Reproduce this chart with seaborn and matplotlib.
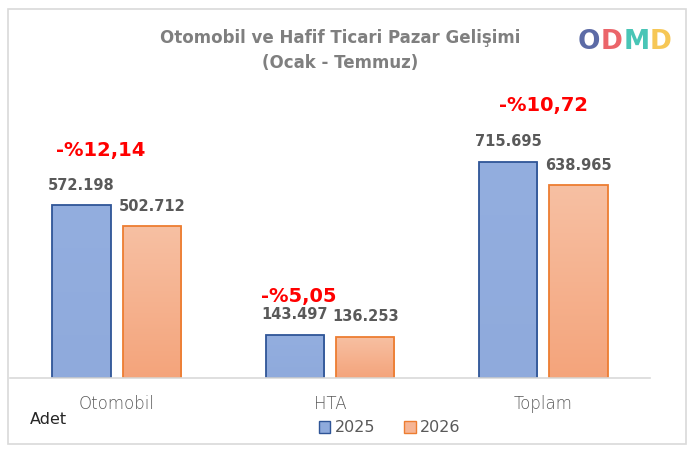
import numpy as np
import pandas as pd
import matplotlib
matplotlib.use("Agg")
import matplotlib.pyplot as plt
import seaborn as sns
from matplotlib.patches import FancyBboxPatch, Patch
from matplotlib.colors import LinearSegmentedColormap

categories = ["Otomobil", "HTA", "Toplam"]
years = ["2025", "2026"]
values_2025 = [572198, 143497, 715695]
values_2026 = [502712, 136253, 638965]
pct_labels = ["-%12,14", "-%5,05", "-%10,72"]

df = pd.DataFrame({
    "Kategori": categories * 2,
    "Yil": [years[0]] * 3 + [years[1]] * 3,
    "Adet": values_2025 + values_2026,
})

sns.set_theme(style="white")
plt.rcParams["font.family"] = ["DejaVu Sans"]

W, H = 694, 449
fig = plt.figure(figsize=(W / 100, H / 100), dpi=100)
ax = fig.add_axes([10 / W, 1 - 378 / H, 640 / W, (378 - 90) / H])

blue_face = "#8eaadc"
blue_edge = "#2f5597"
orange_face = "#f6b595"
orange_edge = "#ed7d31"

sns.barplot(data=df, x="Kategori", y="Adet", hue="Yil", order=categories,
            hue_order=years, palette=[blue_face, orange_face],
            width=0.66, gap=0.17, ax=ax, legend=False, saturation=1)

grads = {
    0: LinearSegmentedColormap.from_list("b", ["#8faadc", "#93aedf"]),
    1: LinearSegmentedColormap.from_list("o", ["#f4a47b", "#f7c0a3"]),
}
for i, container in enumerate(ax.containers):
    edge = blue_edge if i == 0 else orange_edge
    for bar in container:
        x0, y0 = bar.get_x(), bar.get_y()
        w, h = bar.get_width(), bar.get_height()
        grad = np.linspace(0, 1, 256).reshape(-1, 1)
        im = ax.imshow(grad, extent=[x0, x0 + w, y0, y0 + h], origin="lower",
                       aspect="auto", cmap=grads[i], zorder=bar.get_zorder() + 0.1)
        im.set_clip_path(bar)
        bar.set_edgecolor(edge)
        bar.set_linewidth(1.3)
        bar.set_zorder(bar.get_zorder() + 0.2)
        bar.set_facecolor("none")
ax.set_xlim(-0.5, 2.5)
ax.set_ylim(0, 954000)
ax.set_aspect("auto")

def fmt(v):
    return f"{int(round(v)):,}".replace(",", ".")

for i, container in enumerate(ax.containers):
    ax.bar_label(container, labels=[fmt(v) for v in container.datavalues],
                 padding=9, fontsize=10.5, fontweight="bold", color="#595959")

pct_pos = [(-0.075, 755000), (-0.146, 271000), (0.0, 901000)]
for i, (lab, (px, py)) in enumerate(zip(pct_labels, pct_pos)):
    ax.text(i + px, py, lab, ha="center", va="center", fontsize=14,
            fontweight="bold", color="#ff0000")

for s in ["top", "right", "left"]:
    ax.spines[s].set_visible(False)
ax.spines["bottom"].set_color("#d9d9d9")
ax.spines["bottom"].set_linewidth(1.2)
ax.set_yticks([])
ax.set_xlabel("")
ax.set_ylabel("")
ax.tick_params(axis="x", length=0, pad=12, labelsize=12, labelcolor="#595959")
for t in ax.get_xticklabels():
    t.set_fontweight("light")

fig.text(340 / W, 1 - 38 / H, "Otomobil ve Hafif Ticari Pazar Gelişimi",
         ha="center", va="center", fontsize=12, fontweight="bold", color="#7f7f7f")
fig.text(340 / W, 1 - 63 / H, "(Ocak - Temmuz)",
         ha="center", va="center", fontsize=12, fontweight="bold", color="#7f7f7f")

fig.text(30 / W, 1 - 420 / H, "Adet", ha="left", va="center", fontsize=11.5,
         color="#262626")

handles = [Patch(facecolor=blue_face, edgecolor=blue_edge, label="2025"),
           Patch(facecolor=orange_face, edgecolor=orange_edge, label="2026")]
fig.legend(handles=handles, loc="center", bbox_to_anchor=(390 / W, 1 - 428 / H),
           ncol=2, frameon=False, fontsize=11.5, handlelength=0.7, handleheight=0.7,
           handletextpad=0.3, columnspacing=1.8, labelcolor="#595959")

# logo: letters placed side by side
logo = [("O", "#4a5b9c"), ("D", "#e9545a"), ("M", "#35bfae"), ("D", "#f6c143")]
renderer = fig.canvas.get_renderer()
lx = 578
for ch, col in logo:
    t = fig.text(lx / W, 1 - 42 / H, ch, ha="left", va="center", fontsize=19,
                 fontweight="bold", color=col, alpha=0.9)
    bb = t.get_window_extent(renderer=renderer)
    lx = bb.x1 + 0.5

border = FancyBboxPatch((8 / W, 5 / H), 678 / W, 435 / H, boxstyle="square,pad=0",
                        transform=fig.transFigure, fill=False, edgecolor="#d9d9d9",
                        linewidth=1.2)
fig.patches.append(border)

fig.savefig("out.png", dpi=100, facecolor="white")
